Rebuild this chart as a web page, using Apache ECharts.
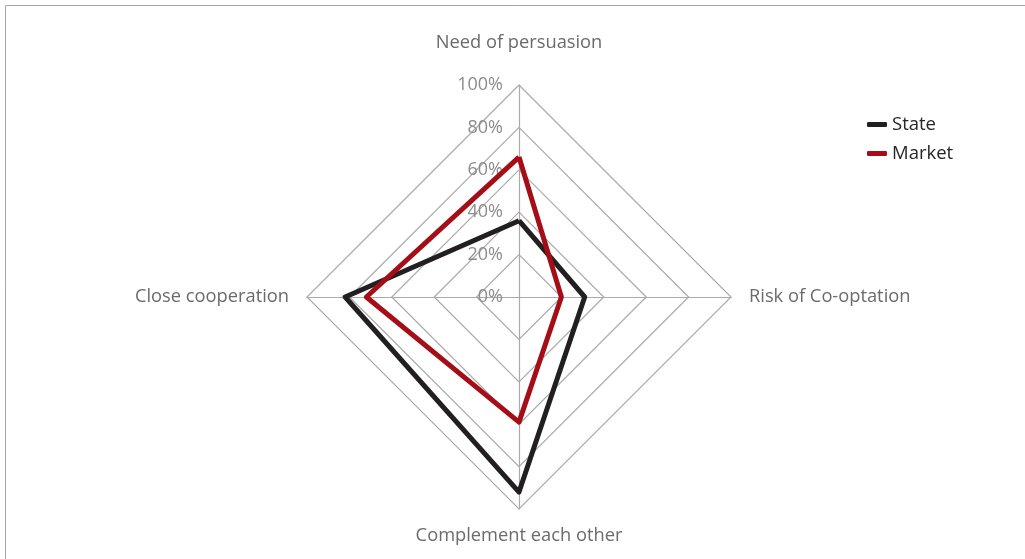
<!DOCTYPE html>
<html><head><meta charset="utf-8">
<script src="https://cdn.jsdelivr.net/npm/echarts@6/dist/echarts.min.js"></script>
<style>html,body{margin:0;padding:0;background:#fff}#c{width:1025px;height:559px}</style>
</head><body><div id="c"></div>
<script>
const indicators = ['Need of persuasion', 'Close cooperation', 'Complement each other', 'Risk of Co-optation'];
const stateValues = [36, 82, 92, 31];
const marketValues = [66, 72, 59, 20];
const seriesNames = ['State', 'Market'];
const maxValue = 100;

const chart = echarts.init(document.getElementById('c'));
const FONT = 'Open Sans';
chart.setOption({
  animation: false,
  backgroundColor: '#fff',
  graphic: [{type: 'rect', shape: {x: 5.5, y: 5.5, width: 1040, height: 580}, style: {fill: 'none', stroke: '#a6a6a6', lineWidth: 1}, silent: true}],
  legend: {
    orient: 'vertical', left: 862, top: 110, itemGap: 10, itemPadding: 0,
    icon: 'roundRect', itemWidth: 20, itemHeight: 5,
    textStyle: {fontFamily: FONT, fontSize: 18.5, color: '#262626'},
    data: seriesNames
  },
  radar: {
    center: [519, 297], radius: 212, startAngle: 90, shape: 'polygon', splitNumber: 5,
    indicator: indicators.map((n, i) => i === 0
      ? {name: n, max: maxValue, min: 0, axisLabel: {show: true, formatter: '{value}%', fontFamily: FONT, fontSize: 18, color: '#8c8c8c', margin: 16}}
      : {name: n, max: maxValue, min: 0}),
    axisName: {
      fontFamily: FONT, fontSize: 18.3, color: '#6b6b6b',
      formatter: (v) => v === indicators[0] ? '{t|' + v + '}' : v,
      rich: {t: {fontFamily: FONT, fontSize: 18.3, color: '#6b6b6b', padding: [0, 0, 15, 0]}}
    },
    nameGap: 18,
    axisLine: {lineStyle: {color: '#aaaaaa', width: 1.2}},
    splitLine: {lineStyle: {color: '#aaaaaa', width: 1.2}},
    splitArea: {show: false},
    axisLabel: {show: false}
  },
  series: [{
    type: 'radar', symbol: 'none',
    data: [
      {name: seriesNames[0], value: stateValues, lineStyle: {color: '#231f20', width: 5}, itemStyle: {color: '#231f20'}},
      {name: seriesNames[1], value: marketValues, lineStyle: {color: '#a50d17', width: 5}, itemStyle: {color: '#a50d17'}}
    ]
  }]
});
</script></body></html>
